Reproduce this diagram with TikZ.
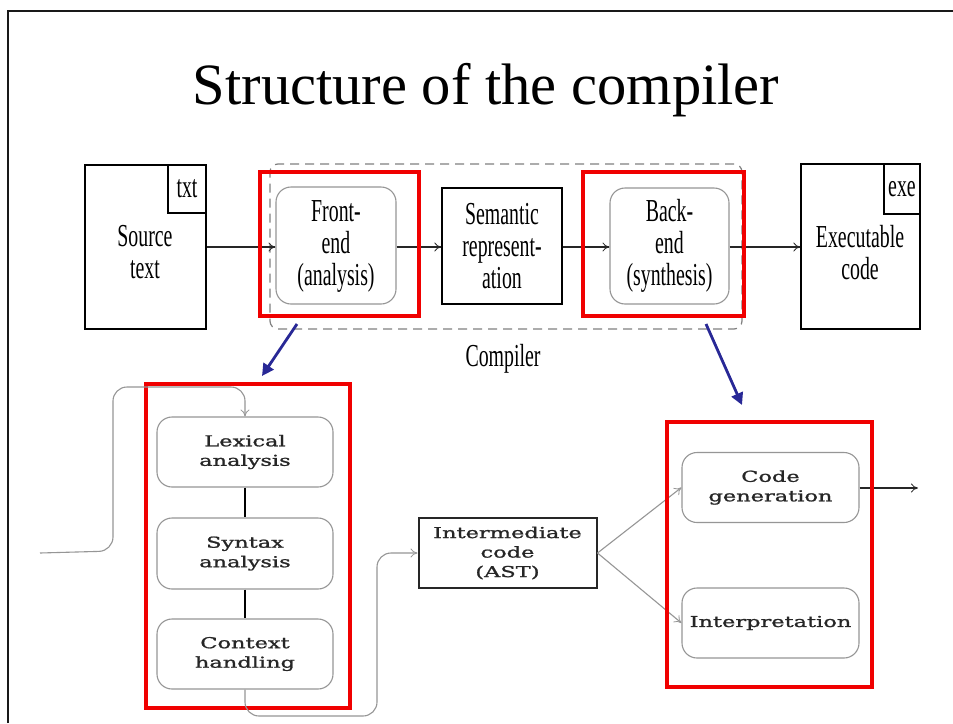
\documentclass[tikz,border=0pt]{standalone}
\usepackage{fontspec}
\setmainfont{Liberation Serif}
\newfontfamily\narrowserif[FakeStretch=0.62]{Liberation Serif}
\newfontfamily\wideserif[FakeStretch=1.5,FakeBold=1.3]{DejaVu Serif}
\usetikzlibrary{arrows.meta}
\definecolor{hiRed}{RGB}{240,0,0}
\definecolor{navy}{RGB}{40,40,150}
\definecolor{softgray}{RGB}{150,150,150}
\tikzset{
  plainbox/.style={draw=black, line width=1.3pt, inner sep=0pt},
  thickbox/.style={draw=black!85, line width=2pt, inner sep=0pt},
  phasebox/.style={draw=softgray, line width=1.1pt, rounded corners=15pt, inner sep=0pt},
  redframe/.style={draw=hiRed, line width=3.2pt, inner sep=0pt},
  toplabel/.style={font=\narrowserif\fontsize{32}{32}\selectfont, align=center, inner sep=0pt},
  lowlabel/.style={font=\wideserif\fontsize{15}{19.5}\selectfont, align=center, inner sep=0pt, text=black!85},
  flow/.style={line width=1.3pt, draw=black!85, -{To[length=7pt,width=9pt,line width=0.8pt]}},
  thinflow/.style={line width=1.1pt, draw=softgray, -{To[length=7pt,width=9pt,line width=0.8pt]}},
  zoomarrow/.style={line width=2.8pt, draw=navy, -{Triangle[length=12pt,width=12pt]}},
}
\begin{document}
\begin{tikzpicture}[x=1pt,y=-1pt]
\useasboundingbox (0,0) rectangle (953,723);
\fill[white] (0,0) rectangle (953,723);

% slide frame
\draw[line width=2.4pt, black!90] (8,723) -- (8,11) -- (953,11);

% title
\node[font=\fontsize{58.5}{60}\selectfont, inner sep=0pt, anchor=base] (title) at (486,104) {Structure of the compiler};

% ---------- top row: overall structure ----------
\node[draw=black!50, dashed, dash pattern=on 9pt off 6pt, line width=1.2pt, rounded corners=8pt,
      minimum width=472pt, minimum height=165pt, inner sep=0pt] (compiler) at (506,246.5) {};
\node[toplabel, anchor=base] (compilerlabel) at (503,366) {Compiler};

\node[plainbox, minimum width=121pt, minimum height=164pt] (src) at (145.5,247) {};
\node[plainbox, minimum width=38pt, minimum height=48pt] (txt) at (187,189) {};
\node[toplabel] at (txt.center) {txt};
\node[toplabel] (srclabel) at (145,252) {Source\\text};

\node[phasebox, minimum width=120pt, minimum height=117pt] (fe) at (336,245.5) {};
\node[toplabel] (felabel) at (336,246) {Front-\\end\\(analysis)};

\node[plainbox, minimum width=120pt, minimum height=116pt] (sem) at (502,246) {};
\node[toplabel] (semlabel) at (502,246) {Semantic\\represent-\\ation};

\node[phasebox, minimum width=119pt, minimum height=116pt] (be) at (669.5,246) {};
\node[toplabel] (belabel) at (669.5,246) {Back-\\end\\(synthesis)};

\node[plainbox, minimum width=119pt, minimum height=165pt] (exe) at (860.5,246.5) {};
\node[plainbox, minimum width=36pt, minimum height=50pt] (exetag) at (902,189) {};
\node[toplabel] at (exetag.center) {exe};
\node[toplabel] (exelabel) at (860,253) {Executable\\code};

\draw[flow] (src.east |- 0,247) -- (fe.west |- 0,247);
\draw[flow] (fe.east |- 0,247) -- (sem.west |- 0,247);
\draw[flow] (sem.east |- 0,247) -- (be.west |- 0,247);
\draw[flow] (be.east |- 0,247) -- (exe.west |- 0,247);

\node[redframe, minimum width=159pt, minimum height=144pt] (redfe) at (339.5,244) {};
\node[redframe, minimum width=161pt, minimum height=144pt] (redbe) at (663.5,244) {};

% ---------- front-end detail ----------
\node[phasebox, minimum width=176pt, minimum height=70pt] (lex) at (245,452) {};
\node[lowlabel] at (lex.center) {Lexical\\analysis};
\node[phasebox, minimum width=176pt, minimum height=71pt] (syn) at (245,553.5) {};
\node[lowlabel] at (syn.center) {Syntax\\analysis};
\node[phasebox, minimum width=176pt, minimum height=70pt] (ctx) at (245,654) {};
\node[lowlabel] at (ctx.center) {Context\\handling};
\draw[line width=1.8pt] (lex) -- (syn);
\draw[line width=1.8pt] (syn) -- (ctx);

\node[redframe, minimum width=204pt, minimum height=324pt] (redfront) at (248,546) {};

\coordinate (infeed) at (40,553);
\draw[thinflow, rounded corners=14pt] (infeed) -- (113,551) -- (113,387) -- (245,387) -- (lex.north);

% ---------- intermediate code ----------
\node[thickbox, minimum width=178pt, minimum height=70pt] (ir) at (507.5,553) {};
\node[lowlabel] at (ir.center) {Intermediate\\code\\(AST)};
\draw[thinflow, rounded corners=14pt] (ctx.south) -- (245,716) -- (377,716) -- (377,553) -- (ir.west);

% ---------- back-end detail ----------
\node[phasebox, minimum width=177pt, minimum height=70pt] (cg) at (770.5,487.5) {};
\node[lowlabel] at (cg.center) {Code\\generation};
\node[phasebox, minimum width=177pt, minimum height=70pt] (interp) at (770.5,623) {};
\node[lowlabel] at (interp.center) {Interpretation};
\draw[thinflow] (ir.east) -- (cg.west);
\draw[thinflow] (ir.east) -- (interp.west);
\coordinate (outfeed) at (918,488);
\draw[flow] (cg.east |- outfeed) -- (outfeed);

\node[redframe, minimum width=205pt, minimum height=265pt] (redback) at (769.5,554.5) {};

% ---------- zoom-in arrows ----------
\draw[zoomarrow] (297,324) -- (262,376);
\draw[zoomarrow] (706,324) -- (742,405);
\end{tikzpicture}
\end{document}
